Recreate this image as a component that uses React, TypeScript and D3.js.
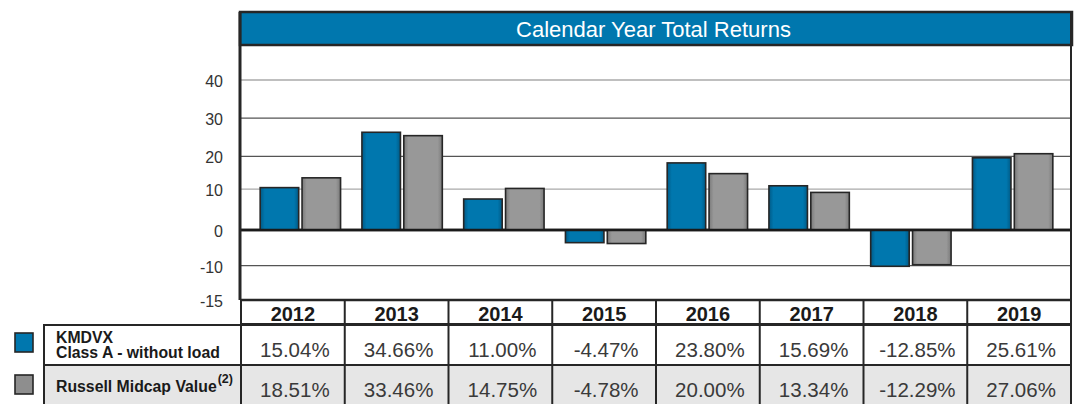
import React from "react";
import * as d3 from "d3";

const years = ["2012", "2013", "2014", "2015", "2016", "2017", "2018", "2019"];
const kmdvx = [15.04, 34.66, 11.0, -4.47, 23.8, 15.69, -12.85, 25.61];
const russell = [18.51, 33.46, 14.75, -4.78, 20.0, 13.34, -12.29, 27.06];
const seriesNames = ["KMDVX", "Russell Midcap Value"];
// gridline positions (in chart value units) and the labels printed beside them
const gridValues = [53.2, 39.7, 26.1, 14.5, 0, -12.6, -24.8];
const gridLabels = ["40", "30", "20", "10", "0", "-10", "-15"];
const title = "Calendar Year Total Returns";

const W = 1076;
const H = 404;
const BLUE = "#0077ae";
const GRAY = "#989898";
const DARK = "#262626";
const FONT = "'Liberation Sans', Arial, Helvetica, sans-serif";

export default function App() {
  const left = 241;
  const right = 1071;
  const plotTop = 45;
  const plotBottom = 300;

  const y = d3.scaleLinear().domain([-24.8, 65.6]).range([plotBottom, plotTop]);
  const xBars = d3.scaleBand().domain(years).range([250, 1063]).paddingInner(0.21).paddingOuter(0.1);
  const xSub = d3.scaleBand().domain(seriesNames).range([0, xBars.bandwidth()]).paddingInner(0.08);
  const xCols = d3.scaleBand().domain(years).range([left, right]);

  const fmt = (v: number) => v.toFixed(2) + "%";
  const gridStyle = (i: number) => {
    const lab = gridLabels[i];
    if (lab === "0") return { stroke: "#1a1a1a", w: 2.5 };
    if (lab === "40" || lab === "10") return { stroke: "#aaaaaa", w: 1.3 };
    if (lab === "-15") return { stroke: "none", w: 0 };
    return { stroke: "#555555", w: 1.3 };
  };

  const rowH = [300, 324, 365, 404];

  return (
    <svg width={W} height={H} style={{ position: "absolute", left: 0, top: 0 }} fontFamily={FONT}>
      <defs>
        <linearGradient id="gb" x1="0" x2="1" y1="0" y2="0">
          <stop offset="0" stopColor="#005a86" />
          <stop offset="0.12" stopColor={BLUE} />
          <stop offset="0.88" stopColor={BLUE} />
          <stop offset="1" stopColor="#005a86" />
        </linearGradient>
        <linearGradient id="gg" x1="0" x2="1" y1="0" y2="0">
          <stop offset="0" stopColor="#7a7a7a" />
          <stop offset="0.12" stopColor={GRAY} />
          <stop offset="0.88" stopColor={GRAY} />
          <stop offset="1" stopColor="#7a7a7a" />
        </linearGradient>
      </defs>
      <rect width={W} height={H} fill="#fff" />

      {/* gridlines */}
      {gridValues.map((v, i) => {
        const s = gridStyle(i);
        return s.stroke === "none" ? null : (
          <line key={"g" + i} x1={left} x2={right} y1={y(v)} y2={y(v)} stroke={s.stroke} strokeWidth={s.w} />
        );
      })}
      {gridValues.map((v, i) => (
        <text key={"t" + i} x={223} y={y(v) + 1.5} textAnchor="end" dominantBaseline="central" fontSize={16} fill="#333">
          {gridLabels[i]}
        </text>
      ))}

      {/* bars */}
      {years.map((yr, i) => {
        const x0 = xBars(yr) as number;
        const vals = [kmdvx[i], russell[i]];
        return vals.map((v, j) => {
          const bx = x0 + (xSub(seriesNames[j]) as number);
          const y0 = y(Math.max(0, v));
          const y1 = y(Math.min(0, v));
          return (
            <rect key={yr + j} x={bx} y={y0} width={xSub.bandwidth()} height={y1 - y0}
              fill={j === 0 ? "url(#gb)" : "url(#gg)"} stroke={DARK} strokeWidth={1.6} />
          );
        });
      })}
      {/* zero line on top */}
      <line x1={left} x2={right} y1={y(0)} y2={y(0)} stroke="#1a1a1a" strokeWidth={2.5} />

      {/* title bar */}
      <rect x={240} y={12} width={right - 240 + 1} height={33} fill={BLUE} stroke={DARK} strokeWidth={2.5} />
      <text x={(240 + right) / 2 - 2} y={29} textAnchor="middle" dominantBaseline="central" fill="#fff" fontSize={22}>
        {title}
      </text>

      {/* table backgrounds */}
      <rect x={44} y={rowH[2]} width={right - 44} height={rowH[3] - rowH[2]} fill="#e6e6e6" />

      {/* plot frame */}
      <line x1={240} x2={240} y1={12} y2={plotBottom} stroke={DARK} strokeWidth={3} />
      <line x1={right} x2={right} y1={12} y2={H} stroke={DARK} strokeWidth={2} />
      <line x1={240} x2={right} y1={plotBottom} y2={plotBottom} stroke={DARK} strokeWidth={2.5} />

      {/* table grid */}
      <line x1={240} x2={right} y1={rowH[1]} y2={rowH[1]} stroke={DARK} strokeWidth={2} />
      <line x1={44} x2={right} y1={rowH[1] + 1} y2={rowH[1] + 1} stroke={DARK} strokeWidth={2} />
      <line x1={44} x2={right} y1={rowH[2]} y2={rowH[2]} stroke={DARK} strokeWidth={2} />
      <line x1={44} x2={44} y1={rowH[1]} y2={H} stroke={DARK} strokeWidth={2} />
      {years.map((yr) => (
        <line key={"c" + yr} x1={xCols(yr) as number} x2={xCols(yr) as number} y1={rowH[0]} y2={H}
          stroke={DARK} strokeWidth={2} />
      ))}

      {/* table text */}
      {years.map((yr, i) => {
        const cx = (xCols(yr) as number) + xCols.bandwidth() / 2;
        return (
          <g key={"tx" + yr}>
            <text x={cx} y={321} textAnchor="middle" fontSize={20} fontWeight="bold" fill="#1a1a1a">{yr}</text>
            <text x={cx + 2} y={357} textAnchor="middle" fontSize={20.5} fill="#3a3a3a">{fmt(kmdvx[i])}</text>
            <text x={cx + 2} y={397} textAnchor="middle" fontSize={20.5} fill="#3a3a3a">{fmt(russell[i])}</text>
          </g>
        );
      })}

      {/* legend */}
      <rect x={15} y={333} width={18} height={19} fill={BLUE} stroke={DARK} strokeWidth={1.6} />
      <rect x={15} y={375} width={18} height={19} fill="#8e8e8e" stroke={DARK} strokeWidth={1.6} />
      <text x={56} y={343} fontSize={15.8} fontWeight="bold" fill="#1a1a1a">{seriesNames[0]}</text>
      <text x={56} y={358} fontSize={15.8} fontWeight="bold" fill="#1a1a1a">Class A - without load</text>
      <text x={56} y={392} fontSize={15.8} fontWeight="bold" fill="#1a1a1a">
        {seriesNames[1]}
        <tspan fontSize={12.5} dy={-9} dx={1}>(2)</tspan>
      </text>
    </svg>
  );
}
